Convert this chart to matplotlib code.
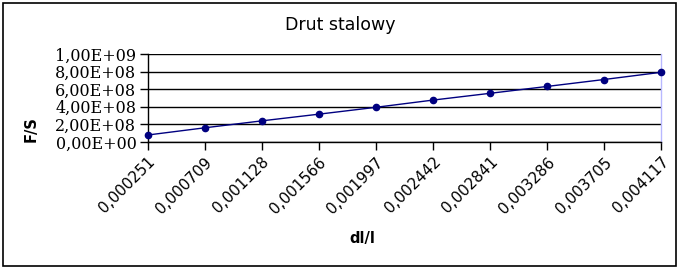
import matplotlib
matplotlib.use("Agg")
import matplotlib.pyplot as plt
from matplotlib.patches import Rectangle

# Data
strain_labels = ["0,000251", "0,000709", "0,001128", "0,001566", "0,001997",
                 "0,002442", "0,002841", "0,003286", "0,003705", "0,004117"]
stress_values = [0.79e8, 1.61e8, 2.40e8, 3.16e8, 3.94e8,
                 4.76e8, 5.53e8, 6.31e8, 7.10e8, 7.92e8]
y_ticks = [0, 2e8, 4e8, 6e8, 8e8, 1e9]
y_tick_labels = ["0,00E+00", "2,00E+08", "4,00E+08", "6,00E+08", "8,00E+08", "1,00E+09"]

W, H = 681, 269
fig = plt.figure(figsize=(W / 100, H / 100), dpi=100)
fig.patch.set_facecolor("white")

# outer frame
fig.add_artist(Rectangle((3 / W, 1 - 266 / H), (676 - 3) / W, (266 - 3) / H,
                         transform=fig.transFigure, fill=False,
                         edgecolor="black", linewidth=1.2))

left, right, top, bottom = 147.5, 661, 54, 142
ax = fig.add_axes([left / W, 1 - bottom / H, (right - left) / W, (bottom - top) / H])

x = list(range(len(strain_labels)))
ax.plot(x, stress_values, color="#000080", linewidth=1.0, marker="o",
        markersize=4.5, markerfacecolor="#000080", markeredgecolor="#000080",
        zorder=5, clip_on=False)

ax.set_xlim(0, len(strain_labels) - 1)
ax.set_ylim(0, 1e9)
ax.set_xticks(x)
ax.set_xticklabels(strain_labels, rotation=45, ha="right", va="top",
                   rotation_mode="anchor", fontsize=11, family="DejaVu Sans",
                   color="black")
ax.set_yticks(y_ticks)
ax.set_yticklabels(y_tick_labels, fontsize=11.5, family="DejaVu Serif", color="black")

ax.grid(axis="y", color="black", linewidth=1.0)
ax.set_axisbelow(True)
ax.tick_params(axis="y", direction="out", length=6, width=1, pad=2)
ax.tick_params(axis="x", direction="out", length=6, width=1, pad=3)

ax.spines["top"].set_visible(False)
ax.spines["right"].set_color("#b8b8ff")
ax.spines["right"].set_linewidth(1.0)
ax.spines["left"].set_color("black")
ax.spines["bottom"].set_color("black")
ax.spines["left"].set_linewidth(1.0)
ax.spines["bottom"].set_linewidth(1.0)

fig.text(340 / W, 1 - 25 / H, "Drut stalowy", ha="center", va="center",
         fontsize=12.5, family="DejaVu Sans")
fig.text(31 / W, 1 - 129 / H, "F/S", ha="center", va="center", rotation=90,
         fontsize=10.5, fontweight="bold", family="DejaVu Sans")
fig.text(362 / W, 1 - 238.5 / H, "dl/l", ha="center", va="center",
         fontsize=10.5, fontweight="bold", family="DejaVu Sans")

fig.savefig("out.png", dpi=100)
